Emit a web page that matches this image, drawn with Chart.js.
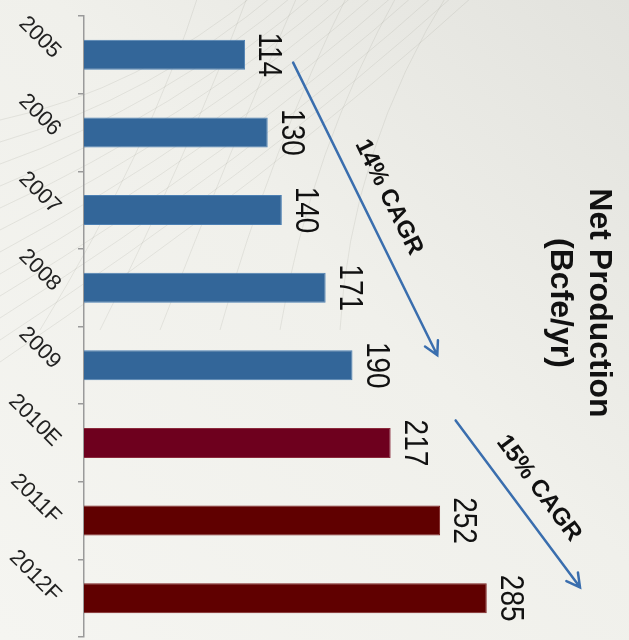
<!DOCTYPE html>
<html>
<head>
<meta charset="utf-8">
<title>Net Production (Bcfe/yr)</title>
<script src="https://cdn.jsdelivr.net/npm/chart.js@4.4.1/dist/chart.umd.min.js"></script>
<style>
  html, body { margin: 0; padding: 0; background: #eeeee9; }
  #wrap { width: 629px; height: 640px; }
</style>
</head>
<body>
<div id="wrap"><canvas id="prodChart" width="629" height="640"></canvas></div>
<script>
const years = ["2005", "2006", "2007", "2008", "2009", "2010E", "2011F", "2012F"];
const netProduction = [114, 130, 140, 171, 190, 217, 252, 285];
const barColors = ["#336699", "#336699", "#336699", "#336699", "#336699", "#6e001e", "#600000", "#600000"];
const barEdges = ["#4d80b3", "#4d80b3", "#4d80b3", "#4d80b3", "#4d80b3", "#8a2a3c", "#7d2020", "#7d2020"];

// growth arrows, ends given as [production value, year index]
const cagrLabels = ["14% CAGR", "15% CAGR"];
const cagrFrom = [[148, 0.1], [263, 4.71]];
const cagrTo = [[250, 3.87], [351, 6.86]];

const FONT = '"Liberation Sans", Arial, Helvetica, sans-serif';

// soft backdrop with a few faint fibres in the upper left
const backdrop = {
  id: "backdrop",
  beforeDraw(chart) {
    const ctx = chart.ctx;
    const w = chart.width, h = chart.height;
    ctx.save();
    const g = ctx.createLinearGradient(0, h, w, 0);
    g.addColorStop(0, "#f5f5f1");
    g.addColorStop(0.55, "#f0f0eb");
    g.addColorStop(1, "#e2e2dd");
    ctx.fillStyle = g;
    ctx.fillRect(0, 0, w, h);
    ctx.strokeStyle = "rgba(140,140,130,0.16)";
    ctx.lineWidth = 1;
    for (let i = 0; i < 12; i++) {
      ctx.beginPath();
      ctx.moveTo(0, 120 + i * 22);
      ctx.quadraticCurveTo(140 + i * 12, 90 + i * 8, 260 + i * 20, -10);
      ctx.stroke();
    }
    for (let i = 0; i < 6; i++) {
      ctx.beginPath();
      ctx.moveTo(40 + i * 60, 330);
      ctx.quadraticCurveTo(150 + i * 40, 150, 200 + i * 50, -10);
      ctx.stroke();
    }
    ctx.restore();
  }
};

const annotate = {
  id: "annotate",
  afterDatasetsDraw(chart) {
    const ctx = chart.ctx;
    const xs = chart.scales.x, ys = chart.scales.y;
    const meta = chart.getDatasetMeta(0);

    // values beside each bar, turned to read downwards
    ctx.save();
    ctx.fillStyle = "#111";
    ctx.font = "28px " + FONT;
    ctx.textAlign = "center";
    ctx.textBaseline = "alphabetic";
    meta.data.forEach((bar, i) => {
      ctx.save();
      ctx.translate(bar.x + 14, bar.y);
      ctx.rotate(Math.PI / 2);
      ctx.scale(1, 1.2);
      ctx.fillText(String(netProduction[i]), 0, 0);
      ctx.restore();
    });
    ctx.restore();

    // year labels at 45 degrees left of the axis
    ctx.save();
    ctx.fillStyle = "#222";
    ctx.font = "22px " + FONT;
    ctx.textAlign = "right";
    ctx.textBaseline = "middle";
    years.forEach((yr, i) => {
      ctx.save();
      ctx.translate(chart.chartArea.left - 27, ys.getPixelForValue(i));
      ctx.rotate(Math.PI / 4);
      ctx.fillText(yr, 0, 0);
      ctx.restore();
    });
    ctx.restore();

    // CAGR arrows
    ctx.save();
    ctx.strokeStyle = "#3a6eae";
    ctx.lineWidth = 2.5;
    ctx.lineCap = "round";
    cagrLabels.forEach((label, i) => {
      const x1 = xs.getPixelForValue(cagrFrom[i][0]);
      const y1 = ys.getPixelForValue(cagrFrom[i][1]);
      const x2 = xs.getPixelForValue(cagrTo[i][0]);
      const y2 = ys.getPixelForValue(cagrTo[i][1]);
      const a = Math.atan2(y2 - y1, x2 - x1);
      ctx.beginPath();
      ctx.moveTo(x1, y1);
      ctx.lineTo(x2, y2);
      const hl = 15, spread = 0.5;
      ctx.moveTo(x2 - hl * Math.cos(a - spread), y2 - hl * Math.sin(a - spread));
      ctx.lineTo(x2, y2);
      ctx.lineTo(x2 - hl * Math.cos(a + spread), y2 - hl * Math.sin(a + spread));
      ctx.stroke();

      const mx = (x1 + x2) / 2 + 26 * Math.sin(a);
      const my = (y1 + y2) / 2 - 26 * Math.cos(a);
      ctx.save();
      ctx.translate(mx, my);
      ctx.rotate(a);
      ctx.fillStyle = "#111";
      ctx.font = "bold 24px " + FONT;
      ctx.textAlign = "center";
      ctx.textBaseline = "middle";
      ctx.fillText(label, 0, 0);
      ctx.restore();
    });
    ctx.restore();

    // chart title, running down the right side
    ctx.save();
    ctx.fillStyle = "#111";
    ctx.font = "bold 32px " + FONT;
    ctx.textAlign = "center";
    ctx.textBaseline = "alphabetic";
    ctx.save();
    ctx.translate(590, 303);
    ctx.rotate(Math.PI / 2);
    ctx.fillText("Net Production", 0, 0);
    ctx.restore();
    ctx.save();
    ctx.translate(551, 303);
    ctx.rotate(Math.PI / 2);
    ctx.fillText("(Bcfe/yr)", 0, 0);
    ctx.restore();
    ctx.restore();
  }
};

new Chart(document.getElementById("prodChart"), {
  type: "bar",
  data: {
    labels: years,
    datasets: [{
      data: netProduction,
      backgroundColor: barColors,
      borderColor: barEdges,
      borderWidth: 1,
      borderSkipped: "left",
      categoryPercentage: 1,
      barPercentage: 0.385
    }]
  },
  options: {
    indexAxis: "y",
    responsive: false,
    animation: false,
    layout: { padding: { left: 78, top: 16, bottom: 3, right: 8 } },
    plugins: {
      legend: { display: false },
      tooltip: { enabled: false }
    },
    scales: {
      x: { display: false, min: 0, max: 380 },
      y: {
        grid: { drawOnChartArea: false, drawTicks: true, tickLength: 6, color: "#9a9a9a", lineWidth: 1.5 },
        border: { color: "#9a9a9a", width: 1.5 },
        ticks: { display: false }
      }
    }
  },
  plugins: [backdrop, annotate]
});
</script>
</body>
</html>
